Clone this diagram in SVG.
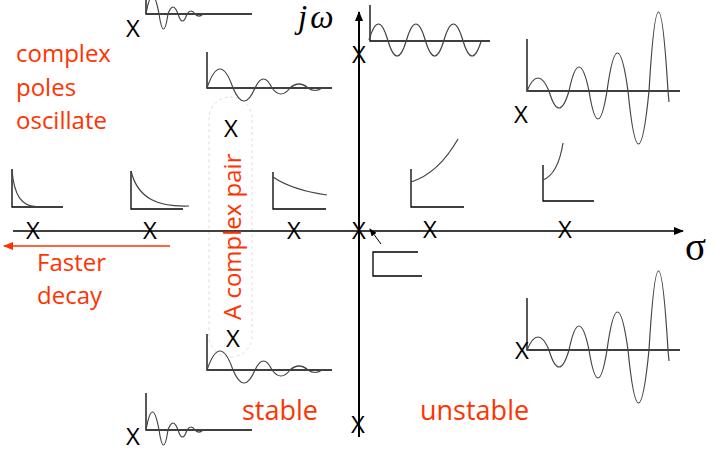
<svg xmlns="http://www.w3.org/2000/svg" width="715" height="451" viewBox="0 0 715 451">
<style>
.red{fill:#FF3300;font-family:"Open Sans","Liberation Sans",sans-serif}
.pole{font-family:"Open Sans","Liberation Sans",sans-serif;font-size:24px;fill:#000;text-anchor:middle}
.ax{fill:none;stroke:#000;stroke-width:1.3}
.w{fill:none;stroke:#444;stroke-width:1.2}
.math{font-family:"Liberation Serif","DejaVu Serif",serif;fill:#000}
</style>
<defs>
<marker id="ah" markerWidth="10" markerHeight="8" refX="9" refY="4" orient="auto" markerUnits="userSpaceOnUse">
<path d="M0,0 L10,4 L0,8 Z" fill="#000"/>
</marker>
<marker id="ahs" markerWidth="8" markerHeight="6" refX="7" refY="3" orient="auto" markerUnits="userSpaceOnUse">
<path d="M0,0 L8,3 L0,6 Z" fill="#000"/>
</marker>
<marker id="ahr" markerWidth="10" markerHeight="8" refX="9" refY="4" orient="auto" markerUnits="userSpaceOnUse">
<path d="M0,0 L10,4 L0,8 Z" fill="#FF3300"/>
</marker>
</defs>
<rect width="715" height="451" fill="#fff"/>

<g id="pair-outline">
<rect x="209" y="97" width="43" height="260" rx="21" fill="none" stroke="#ddd" stroke-width="1" stroke-dasharray="3,3"/>
</g>

<g id="connectors">
<line x1="13" y1="231" x2="683" y2="231" stroke="#000" stroke-width="1.5" marker-end="url(#ah)"/>
<line x1="359" y1="437" x2="359" y2="12" stroke="#000" stroke-width="2" marker-end="url(#ah)"/>
<line x1="381" y1="244" x2="370" y2="229" stroke="#000" stroke-width="1" marker-end="url(#ahs)"/>
<line x1="170" y1="246" x2="4" y2="246" stroke="#FF3300" stroke-width="1.3" marker-end="url(#ahr)"/>
</g>

<g id="axis-labels">
<text class="math" x="298" y="28" font-size="33" font-style="italic">j<tspan dx="3">ω</tspan></text>
<text class="math" x="685" y="260" font-size="39">σ</text>
</g>

<g id="plot-A">
<path class="ax" d="M146,0 V14 H252"/>
<path class="w" d="M146,14 Q152.5,-22 159,14 Q163.5,44 168,14 Q173,0 178,14 Q182.5,28 187,14 Q191,8 195,14 Q199,18 203,14"/>
</g>
<g id="plot-B">
<path class="ax" d="M207,52 V88 H332"/>
<path class="w" d="M207,88 Q220,50 233,88 Q244,114 255,88 Q263.5,70 272,88 Q281,100 290,88 Q299,80 308,88 Q315,93 322,88 L326,88"/>
</g>
<g id="plot-C">
<path class="ax" d="M370,5 V41 H490"/>
<path class="w" d="M369,40 Q378.4,8 387.75,40 T406.5,40 T425.25,40 T444,40 T462.75,40 T481.5,40"/>
</g>
<g id="plot-D">
<path class="ax" d="M527,39 V91 H680"/>
<path class="w" d="M527,91 Q538,65 549,91 Q559,125 569,91 Q579,43 589,91 Q598,147 607,91 Q617.5,15 628,91 Q638.5,197 649,91 Q658.5,-67 668,91 L669,102"/>
</g>
<g id="plot-E">
<path class="ax" d="M12,169 V207 H63"/>
<path class="w" d="M12,170 C14,196 22,206 36,206.5"/>
</g>
<g id="plot-F">
<path class="ax" d="M131,171 V209 H183"/>
<path class="w" d="M131,171 C138,200 160,207 189,206"/>
</g>
<g id="plot-H">
<path class="ax" d="M273,172 V209 H326"/>
<path class="w" d="M273,177 Q292,190 327,195"/>
</g>
<g id="plot-I">
<path class="ax" d="M411,169 V207 H464"/>
<path class="w" d="M411,182 C430,176 446,160 458,139"/>
</g>
<g id="plot-G">
<path class="ax" d="M543,165 V201 H594"/>
<path class="w" d="M543,180 C553,176 560,162 563,143"/>
</g>
<g id="plot-step">
<path class="ax" d="M418,252 H373 V276 H422"/>
</g>
<g id="plot-J">
<path class="ax" d="M207,334 V370 H332"/>
<path class="w" d="M207,370 Q220,332 233,370 Q244,396 255,370 Q263.5,352 272,370 Q281,382 290,370 Q299,362 308,370 Q315,375 322,370 L326,370"/>
</g>
<g id="plot-K">
<path class="ax" d="M146,393 V430 H252"/>
<path class="w" d="M146,430 Q152.5,394 159,430 Q163.5,460 168,430 Q173,416 178,430 Q182.5,444 187,430 Q191,424 195,430 Q199,434 203,430"/>
</g>
<g id="plot-L">
<path class="ax" d="M527,298 V350 H680"/>
<path class="w" d="M527,350 Q538,324 549,350 Q559,384 569,350 Q579,302 589,350 Q598,406 607,350 Q617.5,274 628,350 Q638.5,456 649,350 Q658.5,192 668,350 L669,361"/>
</g>

<g id="poles">
<text class="pole" x="33" y="239">X</text>
<text class="pole" x="150" y="239">X</text>
<text class="pole" x="294" y="239">X</text>
<text class="pole" x="359" y="239">X</text>
<text class="pole" x="430" y="238">X</text>
<text class="pole" x="565" y="238">X</text>
<text class="pole" x="133" y="37">X</text>
<text class="pole" x="231" y="137">X</text>
<text class="pole" x="233" y="347">X</text>
<text class="pole" x="133" y="445">X</text>
<text class="pole" x="359" y="63">X</text>
<text class="pole" x="358" y="433">X</text>
<text class="pole" x="521" y="123">X</text>
<text class="pole" x="522" y="359">X</text>
</g>

<g id="labels">
<text class="red" font-size="24" x="16" y="62">complex</text>
<text class="red" font-size="24" x="16" y="96">poles</text>
<text class="red" font-size="24" x="16" y="129">oscillate</text>
<text class="red" font-size="24" x="37" y="271">Faster</text>
<text class="red" font-size="24" x="37" y="304">decay</text>
<text class="red" font-size="27" x="242" y="420">stable</text>
<text class="red" font-size="27" x="420" y="420">unstable</text>
<text class="red" font-size="24" x="241" y="320" transform="rotate(-90 241 320)">A complex pair</text>
</g>
</svg>
